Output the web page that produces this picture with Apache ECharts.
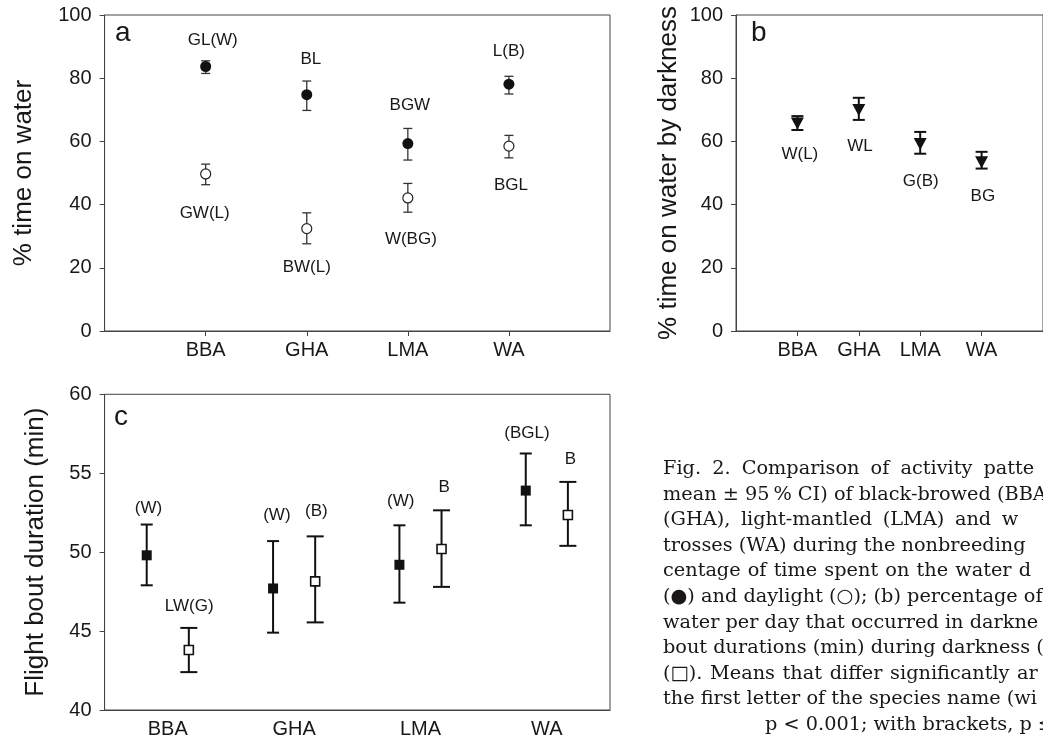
<!DOCTYPE html>
<html>
<head>
<meta charset="utf-8">
<script src="https://cdn.jsdelivr.net/npm/echarts@6/dist/echarts.min.js"></script>
<style>
html, body { margin: 0; padding: 0; background: #fff; }
#chart { width: 1043px; height: 742px; }
</style>
</head>
<body>
<div id="chart"></div>
<script>
const species = ['BBA', 'GHA', 'LMA', 'WA'];

// (a) % time on water: darkness (filled) and daylight (open), mean and 95% CI
const aDarkMean = [83.7, 74.8, 59.3, 78.1];
const aDarkLow = [81.5, 69.8, 54.1, 75.0];
const aDarkHigh = [85.5, 79.1, 64.1, 80.6];
const aDayMean = [49.7, 32.4, 42.1, 58.5];
const aDayLow = [46.3, 27.6, 37.6, 54.8];
const aDayHigh = [52.8, 37.4, 46.7, 61.9];
const aLabelText = ['GL(W)', 'BL', 'BGW', 'L(B)', 'GW(L)', 'BW(L)', 'W(BG)', 'BGL'];
const aLabelX = [1.07, 2.04, 3.02, 4.0, 0.99, 2.0, 3.03, 4.02];
const aLabelY = [92.1, 86.1, 71.5, 88.4, 37.4, 20.0, 29.0, 46.2];

// (b) % time on water by darkness
const bMean = [65.7, 69.9, 59.2, 53.4];
const bLow = [63.6, 66.8, 56.1, 51.4];
const bHigh = [68.0, 73.8, 63.0, 56.7];
const bLabelText = ['W(L)', 'WL', 'G(B)', 'BG'];
const bLabelX = [1.04, 2.02, 3.01, 4.02];
const bLabelY = [55.9, 58.5, 47.5, 42.7];

// (c) flight bout duration (min): darkness (filled) and daylight (open)
const cDarkMean = [49.8, 47.7, 49.2, 53.9];
const cDarkLow = [47.9, 44.9, 46.8, 51.7];
const cDarkHigh = [51.75, 50.7, 51.7, 56.25];
const cDayMean = [43.8, 48.15, 50.2, 52.35];
const cDayLow = [42.4, 45.55, 47.8, 50.4];
const cDayHigh = [45.2, 51.0, 52.65, 54.45];
const cLabelText = ['(W)', 'LW(G)', '(W)', '(B)', '(W)', 'B', '(BGL)', 'B'];
const cLabelX = [1.04, 2.01, 4.09, 5.03, 7.03, 8.06, 10.03, 11.06];
const cLabelY = [52.78, 46.6, 52.35, 52.56, 53.2, 54.08, 57.53, 55.9];

const yTicksPct = [0, 20, 40, 60, 80, 100];
const yTicksMin = [40, 45, 50, 55, 60];

const caption = [
  'Fig. 2. Comparison of activity patte',
  'mean \u00b1 95\u2009% CI) of black-browed (BBA',
  '(GHA), light-mantled (LMA) and w',
  'trosses (WA) during the nonbreeding',
  'centage of time spent on the water d',
  '(\u25cf) and daylight (\u25cb); (b) percentage of t',
  'water per day that occurred in darkne',
  'bout durations (min) during darkness (',
  '(\u25a1). Means that differ significantly ar',
  'the first letter of the species name (wi',
  'p < 0.001; with brackets, p \u2264'
];
// extra space between words on the justified lines
const captionGap = [5, 0, 4.5, 0, 1, 0, 0, 0, 1.5, 0, 0];

const ink = '#1a1718';
const axisGray = '#444';
const sans = '"Liberation Sans", Arial, Helvetica, sans-serif';
const captionFont = '19.3px "DejaVu Serif", serif';

const chart = echarts.init(document.getElementById('chart'));

function errBar(cap, width, color) {
  return function (params, api) {
    const x = api.value(0);
    const top = api.coord([x, api.value(2)]);
    const bot = api.coord([x, api.value(1)]);
    const h = cap / 2;
    const style = { stroke: color, lineWidth: width };
    return {
      type: 'group',
      children: [
        { type: 'line', shape: { x1: top[0], y1: top[1], x2: bot[0], y2: bot[1] }, style: style },
        { type: 'line', shape: { x1: top[0] - h, y1: top[1], x2: top[0] + h, y2: top[1] }, style: style },
        { type: 'line', shape: { x1: bot[0] - h, y1: bot[1], x2: bot[0] + h, y2: bot[1] }, style: style }
      ]
    };
  };
}

function barSeries(idx, xs, low, high, cap, width, color) {
  return {
    type: 'custom',
    xAxisIndex: idx, yAxisIndex: idx,
    renderItem: errBar(cap, width, color),
    encode: { x: 0, y: [1, 2] },
    data: xs.map((x, i) => [x, low[i], high[i]]),
    z: 2, silent: true
  };
}

function markSeries(idx, xs, mean, symbol, size, style, rotate) {
  return {
    type: 'scatter',
    xAxisIndex: idx, yAxisIndex: idx,
    symbol: symbol, symbolSize: size, symbolRotate: rotate || 0,
    itemStyle: Object.assign({ opacity: 1 }, style),
    data: xs.map((x, i) => [x, mean[i]]),
    z: 3, silent: true
  };
}

function labelSeries(idx, xs, ys, texts) {
  return {
    type: 'scatter',
    xAxisIndex: idx, yAxisIndex: idx,
    symbolSize: 1,
    itemStyle: { color: 'rgba(0,0,0,0)', opacity: 1 },
    label: {
      show: true, position: 'inside', opacity: 1,
      formatter: p => p.value[2],
      fontFamily: sans, fontSize: 17, color: ink
    },
    data: texts.map((t, i) => [xs[i], ys[i], t]),
    z: 4, silent: true
  };
}

function xAxisOf(idx, max, ticks, fmt, showTicks) {
  return {
    gridIndex: idx, type: 'value', min: 0, max: max,
    splitLine: { show: false },
    axisLine: { show: true, onZero: false, lineStyle: { color: axisGray, width: 1 } },
    axisTick: { show: showTicks, customValues: ticks, length: 5, lineStyle: { color: axisGray } },
    axisLabel: { customValues: ticks, formatter: fmt, margin: 9, fontFamily: sans, fontSize: 20, color: ink }
  };
}

function yAxisOf(idx, ticks, name, gap) {
  return {
    gridIndex: idx, type: 'value',
    min: ticks[0], max: ticks[ticks.length - 1], interval: ticks[1] - ticks[0],
    name: name, nameLocation: 'middle', nameGap: gap,
    nameTextStyle: { fontFamily: sans, fontSize: 26, color: ink },
    splitLine: { show: false },
    axisLine: { show: true, lineStyle: { color: axisGray, width: 1 } },
    axisTick: { show: true, length: 5, lineStyle: { color: axisGray } },
    axisLabel: { margin: 13, fontFamily: sans, fontSize: 20, color: ink }
  };
}

const pos4 = [1, 2, 3, 4];
const cDarkX = [1, 4, 7, 10];
const cDayX = [2, 5, 8, 11];
const cCatX = [1.5, 4.5, 7.5, 10.5];

const filled = { color: '#111' };
const openC = { color: '#fff', borderColor: '#222', borderWidth: 1.2 };
const openS = { color: '#fff', borderColor: '#111', borderWidth: 1.6 };

const graphics = [
  { type: 'text', style: { text: 'a', x: 115, y: 33, font: '28px ' + sans, fill: ink, verticalAlign: 'middle' } },
  { type: 'text', style: { text: 'b', x: 751, y: 33, font: '28px ' + sans, fill: ink, verticalAlign: 'middle' } },
  { type: 'text', style: { text: 'c', x: 114, y: 417, font: '28px ' + sans, fill: ink, verticalAlign: 'middle' } }
];

// caption, one text per word so the justified lines keep their wide spacing
const measure = document.createElement('canvas').getContext('2d');
measure.font = captionFont;
const spaceW = measure.measureText(' ').width;
caption.forEach((line, i) => {
  let x = i === caption.length - 1 ? 765 : 663;
  const y = 469 + 25.6 * i;
  line.split(' ').forEach(word => {
    graphics.push({
      type: 'text',
      style: { text: word, x: x, y: y, font: captionFont, fill: ink, verticalAlign: 'middle' }
    });
    x += measure.measureText(word).width + spaceW + captionGap[i];
  });
});

chart.setOption({
  animation: false,
  backgroundColor: '#fff',
  grid: [
    { left: 104.6, top: 15, width: 505.4, height: 316, show: true, borderColor: axisGray, borderWidth: 1 },
    { left: 736, top: 15, width: 316.5, height: 316, show: true, borderColor: axisGray, borderWidth: 1 },
    { left: 104.6, top: 394.3, width: 505.4, height: 315.7, show: true, borderColor: axisGray, borderWidth: 1 }
  ],
  xAxis: [
    xAxisOf(0, 5, pos4, v => species[Math.round(v) - 1], true),
    xAxisOf(1, 5, pos4, v => species[Math.round(v) - 1], true),
    xAxisOf(2, 12, cCatX, v => species[Math.floor(v / 3)], false)
  ],
  yAxis: [
    yAxisOf(0, yTicksPct, '% time on water', 68),
    yAxisOf(1, yTicksPct, '% time on water by darkness', 54),
    yAxisOf(2, yTicksMin, 'Flight bout duration (min)', 56)
  ],
  graphic: graphics,
  series: [
    barSeries(0, pos4, aDarkLow, aDarkHigh, 9, 1.3, '#333'),
    barSeries(0, pos4, aDayLow, aDayHigh, 9, 1.3, '#333'),
    markSeries(0, pos4, aDarkMean, 'circle', 11, filled),
    markSeries(0, pos4, aDayMean, 'circle', 10, openC),
    labelSeries(0, aLabelX, aLabelY, aLabelText),

    barSeries(1, pos4, bLow, bHigh, 12, 2, '#111'),
    markSeries(1, pos4, bMean, 'triangle', [13, 12], filled, 180),
    labelSeries(1, bLabelX, bLabelY, bLabelText),

    barSeries(2, cDarkX, cDarkLow, cDarkHigh, 12, 2, '#111'),
    barSeries(2, cDayX, cDayLow, cDayHigh, 17, 2, '#111'),
    markSeries(2, cDarkX, cDarkMean, 'rect', 10, filled),
    markSeries(2, cDayX, cDayMean, 'rect', 9, openS),
    labelSeries(2, cLabelX, cLabelY, cLabelText)
  ]
});
</script>
</body>
</html>
